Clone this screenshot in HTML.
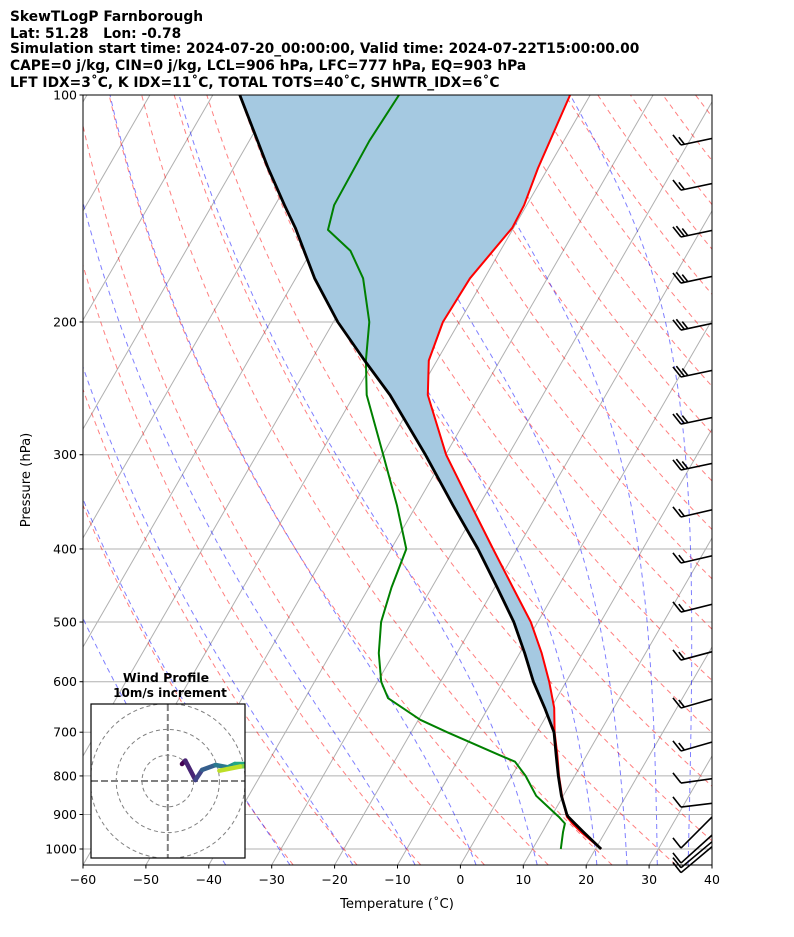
<!DOCTYPE html>
<html><head><meta charset="utf-8">
<style>
html,body{margin:0;padding:0;background:#fff;}
svg{display:block;font-family:"DejaVu Sans","Liberation Sans",sans-serif;}
</style></head>
<body>
<svg id="chart" xmlns="http://www.w3.org/2000/svg" width="794" height="937" viewBox="0 0 794 937">
<defs>
<clipPath id="plotClip"><rect x="83" y="95" width="629" height="770"/></clipPath>
<clipPath id="barbClip"><rect x="0" y="0" width="712" height="937"/></clipPath>
<clipPath id="hodoClip"><rect x="91" y="704" width="154" height="154"/></clipPath>
</defs>
<g font-weight="bold" font-size="13.8" fill="#000">
<text x="10" y="21">SkewTLogP Farnborough</text>
<text x="10" y="38" xml:space="preserve">Lat: 51.28   Lon: -0.78</text>
<text x="10" y="53">Simulation start time: 2024-07-20_00:00:00, Valid time: 2024-07-22T15:00:00.00</text>
<text x="10" y="70">CAPE=0 j/kg, CIN=0 j/kg, LCL=906 hPa, LFC=777 hPa, EQ=903 hPa</text>
<text x="10" y="87">LFT IDX=3˚C, K IDX=11˚C, TOTAL TOTS=40˚C, SHWTR_IDX=6˚C</text>
</g>
<g id="bg" clip-path="url(#plotClip)"></g>
<g id="fill" clip-path="url(#plotClip)"></g>
<g id="profiles" clip-path="url(#plotClip)"></g>
<g id="barbs" clip-path="url(#barbClip)"></g>
<g id="axes"></g>
<g id="hodo"></g>
</svg>
<script>
// ---- data ----
const tempP = [1000,950,925,906,900,850,800,750,700,650,600,550,500,450,400,350,300,250,225,200,175,150,140,125,100];
const tempT = [20.9,16.2,14.0,12.5,12.2,9.8,7.5,5.3,2.8,0.5,-2.7,-6.5,-11.1,-17.1,-23.8,-31.3,-39.9,-48.3,-51.3,-52.6,-52.3,-50.2,-50.4,-51.6,-53.2];
const parcelT = [20.9,16.6,14.4,12.7,12.3,9.7,7.4,5.1,2.7,-1.0,-5.2,-9.2,-13.8,-19.6,-26.2,-34.2,-43.2,-54.3,-61.5,-69.3,-77,-84.7,-88.5,-94.5,-105.7];
const dewP = [1000,950,925,906,900,850,800,766,750,700,674,631,600,550,500,450,400,350,300,250,225,200,175,161,151,140,115,100];
const dewT = [14.5,13.3,12.8,11.2,10.6,5.7,2.2,-0.8,-4,-14.3,-19.7,-26.8,-29.4,-32.4,-34.9,-36.4,-37.6,-43.1,-49.9,-58,-61.3,-64.3,-69.3,-73.8,-79.3,-80.6,-80.9,-80.4];
const moistBaseT = [-37.3,-27.1,-17.1,-7.2,2.5,12.2,21.7,26.5,31.3,36.2];
const barbP = [116.5,133.7,154.3,177.6,205,236.6,273.2,314.3,362.8,417.5,485,561.6,650.1,741.3,817.6,879.8,997,1043.8,1059,1075];
const barbAngle = [-12,-12,-12,-12,-12,-12,-12,-12,-13,-13,-14,-15,-16,-16,-8,-7,-45,-42,-40,-40];
const barbFlags = [2,2,3,3,3,3,3,3,2,2,2,2,2,2,1,1,1,1,1,1];
const hodoU = [5.5,6.8,10.7,13.3,18.5,23.3,26,31,33,28,20];
const hodoV = [6.6,7.9,0.4,4.3,6.2,5.3,6.6,6.6,6,5.6,4];
const pTicks = [100,200,300,400,500,600,700,800,900,1000];
const tTicks = [-60,-50,-40,-30,-20,-10,0,10,20,30,40];

// ---- axes functions ----
const X0=83, X1=712, Y0=95, Y1=865, PXT=6.29, SK=0.577;
function yOf(p){return Y0+754*Math.log10(p/100);}
function xOf(T,p){return X0+(T+60)*PXT+(Y1-yOf(p))*SK;}
const NS='http://www.w3.org/2000/svg';
function mk(tag,attrs,parent){const e=document.createElementNS(NS,tag);for(const k in attrs)e.setAttribute(k,attrs[k]);parent.appendChild(e);return e;}
function ptsStr(Ts,Ps){return Ts.map((t,i)=>xOf(t,Ps[i]).toFixed(1)+','+yOf(Ps[i]).toFixed(1)).join(' ');}

const bg=document.getElementById('bg');
for(let T=-160;T<=40;T+=10){
  const l=mk('line',{x1:xOf(T,1050),y1:yOf(1050),x2:xOf(T,100),y2:yOf(100),stroke:'#b0b0b0','stroke-width':1},bg);
  
  
}
pTicks.forEach(p=>{
  const l=mk('line',{x1:X0,x2:X1,y1:yOf(p),y2:yOf(p),stroke:'#b0b0b0','stroke-width':1},bg);
  
  
});
const levels=[];for(let p=1050;p>=100;p-=10)levels.push(p);
for(let th=-30;th<200;th+=10){
  const K=th+273.15;
  const Ts=levels.map(p=>K*Math.pow(p/1000,0.2857)-273.15);
  const l=mk('polyline',{points:ptsStr(Ts,levels),fill:'none',stroke:'rgba(255,0,0,0.5)','stroke-width':1,'stroke-dasharray':'5,4'},bg);
  
  
}
function dTdp(T,p){const es=6.112*Math.exp(17.67*(T-273.15)/(T-29.65));const rs=0.622*es/(p-es);const Lv=2.501e6,Rd=287.04,Cp=1005.7;
  return (Rd*T+Lv*rs)/(p*(Cp+Lv*Lv*rs*0.622/(Rd*T*T)));}
function moist(Tb){
  const out={p:[],t:[]};
  let T=Tb+273.15,p=1050;out.p.push(p);out.t.push(Tb);
  while(p>100){const h=-5;const k1=dTdp(T,p);const k2=dTdp(T+k1*h/2,p+h/2);T+=k2*h;p+=h;out.p.push(p);out.t.push(T-273.15);}
  return out;
}
moistBaseT.forEach(tb=>{
  const m=moist(tb);
  const l=mk('polyline',{points:ptsStr(m.t,m.p),fill:'none',stroke:'rgba(0,0,255,0.5)','stroke-width':1,'stroke-dasharray':'5,4'},bg);
  
  
});
const fg=document.getElementById('fill');
const fwd=tempP.map((p,i)=>xOf(Math.max(tempT[i],parcelT[i]),p).toFixed(1)+','+yOf(p).toFixed(1));
const back=tempP.map((p,i)=>xOf(parcelT[i],p).toFixed(1)+','+yOf(p).toFixed(1)).reverse();
const poly=mk('polygon',{points:fwd.concat(back).join(' '),fill:'#a5c9e1',stroke:'none'},fg);


const pr=document.getElementById('profiles');
const tl=mk('polyline',{points:ptsStr(tempT,tempP),fill:'none',stroke:'#ff0000','stroke-width':2,'stroke-linejoin':'round'},pr);


const dl=mk('polyline',{points:ptsStr(dewT,dewP),fill:'none',stroke:'#008000','stroke-width':2,'stroke-linejoin':'round'},pr);


const pl=mk('polyline',{points:ptsStr(parcelT,tempP),fill:'none',stroke:'#000','stroke-width':2.8,'stroke-linejoin':'round'},pr);


const bgp=document.getElementById('barbs');
barbP.forEach((p,i)=>{
  const tx=681, ty=yOf(p);
  const a=barbAngle[i]*Math.PI/180;
  const g=mk('g',{},bgp);
  
  
  mk('line',{x1:tx,y1:ty,x2:tx+60*Math.cos(a),y2:ty+60*Math.sin(a),stroke:'#000','stroke-width':1.6},g);
  for(let f=0;f<barbFlags[i];f++){
    const sx=tx+f*3.5*Math.cos(a), sy=ty+f*3.5*Math.sin(a);
    const len=(f===barbFlags[i]-1&&barbFlags[i]>1)?9:13;
    mk('line',{x1:sx,y1:sy,x2:sx-len*0.62,y2:sy-len*0.78,stroke:'#000','stroke-width':1.6},g);
  }
});
const ax=document.getElementById('axes');
const fr=mk('rect',{x:X0,y:Y0,width:X1-X0,height:Y1-Y0,fill:'none',stroke:'#000','stroke-width':1},ax);


pTicks.forEach(p=>{
  const y=yOf(p);
  mk('line',{x1:X0-3.5,x2:X0,y1:y,y2:y,stroke:'#000'},ax);
  const t=mk('text',{x:X0-6,y:y+4.5,'font-size':12.5,'text-anchor':'end'},ax);
  t.textContent=p;
  
  
});
tTicks.forEach(T=>{
  const x=X0+(T+60)*PXT;
  mk('line',{x1:x,x2:x,y1:Y1,y2:Y1+3.5,stroke:'#000'},ax);
  const t=mk('text',{x:x,y:Y1+19,'font-size':12.5,'text-anchor':'middle'},ax);
  t.textContent=(T<0?'\u2212'+(-T):T);
  
  
});
const xt=mk('text',{x:397,y:908,'font-size':13.2,'text-anchor':'middle'},ax);
xt.textContent='Temperature (˚C)';


const yt=mk('text',{x:30,y:480,'font-size':13.2,'text-anchor':'middle',transform:'rotate(-90 30 480)'},ax);
yt.textContent='Pressure (hPa)';


const hg=document.getElementById('hodo');
const HX=167.8, HY=781, HS=2.58;
const hb=mk('rect',{x:91,y:704,width:154,height:154,fill:'#fff',stroke:'none'},hg);


const hc=mk('g',{'clip-path':'url(#hodoClip)'},hg);
[10,20,30].forEach(r=>{
  const c=mk('circle',{cx:HX,cy:HY,r:r*HS,fill:'none',stroke:'#808080','stroke-width':1,'stroke-dasharray':'4,3'},hc);
  
  
});
mk('line',{x1:91,x2:245,y1:HY,y2:HY,stroke:'#808080','stroke-width':2,'stroke-dasharray':'7,3'},hc);
mk('line',{x1:HX,x2:HX,y1:704,y2:858,stroke:'#808080','stroke-width':2,'stroke-dasharray':'7,3'},hc);
const vir=['#440154','#482475','#414487','#355f8d','#2a788e','#21918c','#22a884','#44bf70','#7ad151','#bddf26','#fde725'];
for(let i=0;i<hodoU.length-1;i++){
  const s=mk('line',{x1:HX+hodoU[i]*HS,y1:HY-hodoV[i]*HS,x2:HX+hodoU[i+1]*HS,y2:HY-hodoV[i+1]*HS,stroke:vir[i],'stroke-width':4.5,'stroke-linecap':'round'},hc);
  
  
}
const hf=mk('rect',{x:91,y:704,width:154,height:154,fill:'none',stroke:'#000','stroke-width':1.2},hg);


const h1=mk('text',{x:166,y:682,'font-size':12.5,'font-weight':'bold','text-anchor':'middle'},hg);
h1.textContent='Wind Profile';


const h2=mk('text',{x:170,y:697,'font-size':12,'font-weight':'bold','text-anchor':'middle'},hg);
h2.textContent='10m/s increment';


</script>
</body></html>
